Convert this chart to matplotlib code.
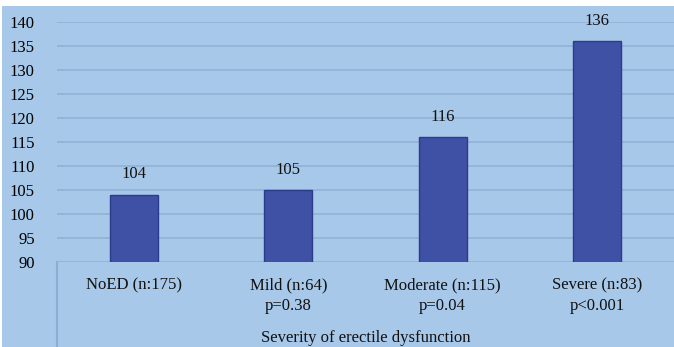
import matplotlib.pyplot as plt
from matplotlib.patches import Rectangle

# ====================================
# DATA
# ====================================

groups = ["NoED (n:175)", "Mild (n:64)", "Moderate (n:115)", "Severe (n:83)"]
p_values = ["", "p=0.38", "p=0.04", "p<0.001"]
values = [104, 105, 116, 136]
y_ticks = [90, 95, 100, 105, 110, 115, 120, 125, 130, 135, 140]

bg = "#a7c8e9"
bar_color = "#3f51a5"
grid_color = "#92b3d6"

plt.rcParams["font.family"] = ["Liberation Serif", "DejaVu Serif"]

# ====================================
# FIGURE
# ====================================

fig = plt.figure(figsize=(6.74, 3.47), dpi=100)
fig.patch.set_facecolor("white")

W, H = 674, 347
fig.patches.append(
    Rectangle((2 / W, 0), 1, 1 - 6 / H, transform=fig.transFigure,
              facecolor=bg, edgecolor="none", zorder=-10)
)

ax = fig.add_axes([57 / W, 1 - 262 / H, (W - 57) / W, (262 - 22) / H])
ax.set_facecolor("none")

x = list(range(len(groups)))

ax.bar(x, values, width=0.31, bottom=0, color=bar_color,
       edgecolor="#2c3c8c", linewidth=1.0, zorder=3)

for xi, v in zip(x, values):
    ax.text(xi, v + 2.6, str(v), ha="center", va="bottom",
            fontsize=12, color="#111111")

ax.set_ylim(90, 140)
ax.set_xlim(-0.5, 3.5)
ax.set_yticks(y_ticks)
ax.tick_params(axis="y", length=0, pad=16, labelsize=12)
ax.set_xticks([])

ax.yaxis.grid(True, color=grid_color, linewidth=1.3, zorder=1)
ax.set_axisbelow(True)

for s in ax.spines.values():
    s.set_visible(False)

# category labels under the axis
for xi, g, p in zip(x, groups, p_values):
    ax.text(xi, -23 / 240, g, transform=ax.get_xaxis_transform(),
            ha="center", va="center", fontsize=12, color="#111111")
    if p:
        ax.text(xi, -44 / 240, p, transform=ax.get_xaxis_transform(),
                ha="center", va="center", fontsize=12, color="#111111")

ax.text(1.5, -76 / 240, "Severity of erectile dysfunction",
        transform=ax.get_xaxis_transform(),
        ha="center", va="center", fontsize=12, color="#111111")

# left category axis line
ax.plot([-0.5, -0.5], [0, -85 / 240], transform=ax.get_xaxis_transform(),
        color="#8eadd0", linewidth=1.5, clip_on=False)

plt.savefig("out.png", dpi=100, facecolor=fig.get_facecolor())
